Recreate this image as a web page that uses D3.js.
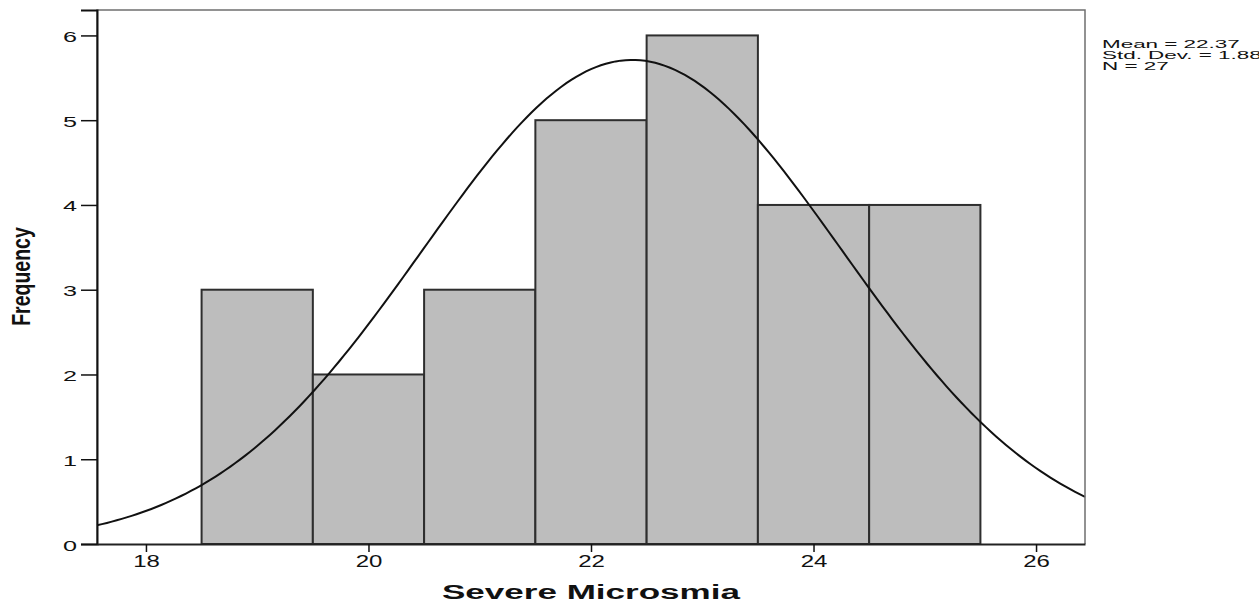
<!DOCTYPE html>
<html>
<head>
<meta charset="utf-8">
<script src="https://cdn.jsdelivr.net/npm/d3@7"></script>
<style>
  body { margin: 0; background: #fff; overflow: hidden; }
  text { font-family: Arial, "Liberation Sans", sans-serif; fill: #111; }
</style>
</head>
<body>
<div id="chart"></div>
<script>
// histogram bins (lower edge) and counts
const binStarts = [18.5, 19.5, 20.5, 21.5, 22.5, 23.5, 24.5];
const binWidth = 1;
const counts = [3, 2, 3, 5, 6, 4, 4];

const xTicks = [18, 20, 22, 24, 26];
const yTicks = [0, 1, 2, 3, 4, 5, 6];

// summary stats shown in the legend, used for the normal overlay
const statMean = 22.37;
const statSd = 1.886;
const statN = 27;
const legendLines = ["Mean = 22.37", "Std. Dev. = 1.886", "N = 27"];

const svgWidth = 1259, svgHeight = 603;
const margin = {left: 97, top: 10, right: 174, bottom: 59};
const width = svgWidth - margin.left - margin.right;
const height = svgHeight - margin.top - margin.bottom;

const svg = d3.select("#chart").append("svg")
    .attr("width", svgWidth)
    .attr("height", svgHeight);

const g = svg.append("g")
    .attr("transform", "translate(" + margin.left + "," + margin.top + ")");

const xscale = d3.scaleLinear().domain([17.56, 26.44]).range([0, width]);
const yscale = d3.scaleLinear().domain([0, 6.3]).range([height, 0]);

// bars
g.selectAll("rect.bar")
    .data(binStarts.map((s, i) => ({x0: s, x1: s + binWidth, n: counts[i]})))
    .enter()
    .append("rect")
    .attr("class", "bar")
    .attr("x", d => xscale(d.x0))
    .attr("y", d => yscale(d.n))
    .attr("width", d => xscale(d.x1) - xscale(d.x0))
    .attr("height", d => yscale(0) - yscale(d.n))
    .style("fill", "#bdbdbd")
    .style("stroke", "#2e2e2e")
    .style("stroke-width", 2);

// normal curve scaled to counts
const normal = x => statN * binWidth / (statSd * Math.sqrt(2 * Math.PI)) *
    Math.exp(-0.5 * Math.pow((x - statMean) / statSd, 2));
const curvePts = d3.range(0, 201).map(i => {
    const x = 17.56 + (26.44 - 17.56) * i / 200;
    return [x, normal(x)];
});
g.append("path")
    .datum(curvePts)
    .attr("d", d3.line().x(d => xscale(d[0])).y(d => yscale(d[1])))
    .style("fill", "none")
    .style("stroke", "#111")
    .style("stroke-width", 2);

// frame (top and right)
g.append("path")
    .attr("d", "M0," + height + "V0H" + width + "V" + height)
    .style("fill", "none")
    .style("stroke", "#6f6f6f")
    .style("stroke-width", 1.5);

// y axis
const yAxis = g.append("g")
    .call(d3.axisLeft(yscale).tickValues(yTicks).tickSize(16).tickFormat(d3.format("d")));
yAxis.select(".domain").style("stroke", "#111").style("stroke-width", 2);
yAxis.selectAll(".tick line").style("stroke", "#111").style("stroke-width", 1.5);
yAxis.selectAll(".tick text")
    .attr("x", null).attr("dy", null)
    .attr("transform", "translate(-20,6) scale(1.8,1)")
    .style("font-size", "14px");

// x axis
const xAxis = g.append("g")
    .attr("transform", "translate(0," + height + ")")
    .call(d3.axisBottom(xscale).tickValues(xTicks).tickSize(8).tickSizeOuter(0));
xAxis.select(".domain").style("stroke", "#222").style("stroke-width", 2);
xAxis.selectAll(".tick line").style("stroke", "#111").style("stroke-width", 1.5);
xAxis.selectAll(".tick text")
    .attr("y", null).attr("dy", null)
    .attr("transform", "translate(0,23) scale(1.5,1)")
    .style("font-size", "16px");

// axis titles
svg.append("text")
    .attr("x", 591).attr("y", 599)
    .attr("text-anchor", "middle")
    .attr("textLength", 298)
    .attr("lengthAdjust", "spacingAndGlyphs")
    .style("font-size", "19.5px")
    .style("font-weight", "bold")
    .text("Severe Microsmia");

svg.append("text")
    .attr("transform", "translate(30,276.5) scale(1.3,1) rotate(-90)")
    .attr("text-anchor", "middle")
    .style("font-size", "19.5px")
    .style("font-weight", "bold")
    .text("Frequency");

// legend
const legend = svg.append("g")
    .attr("transform", "translate(1102,0) scale(1.95,1)");
legend.selectAll("text")
    .data(legendLines)
    .enter()
    .append("text")
    .attr("x", 0)
    .attr("y", (d, i) => 48 + i * 11)
    .style("font-size", "11.5px")
    .text(d => d);
</script>
</body>
</html>
